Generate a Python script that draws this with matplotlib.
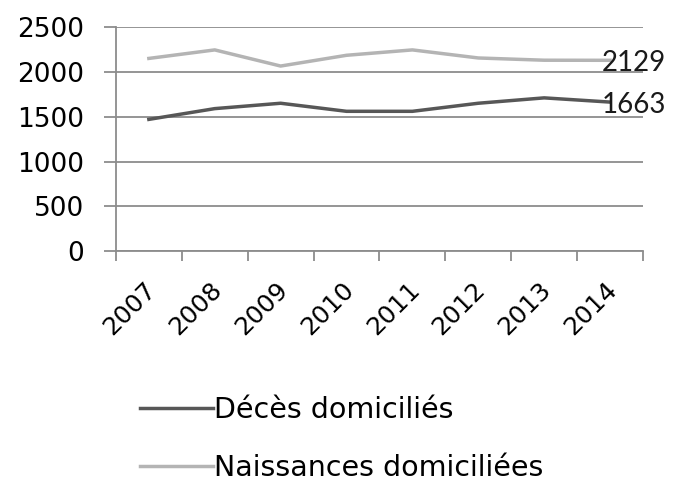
import numpy as np
import matplotlib.pyplot as plt

# Data
years = ['2007', '2008', '2009', '2010', '2011', '2012', '2013', '2014']
deces = [1470, 1590, 1650, 1560, 1560, 1650, 1710, 1663]
naissances = [2150, 2245, 2065, 2185, 2245, 2155, 2130, 2129]
yticks = [0, 500, 1000, 1500, 2000, 2500]

plt.rcParams['font.family'] = ['DejaVu Sans']

fig = plt.figure(figsize=(6.74, 4.83), dpi=100)
ax = fig.add_axes([0.172, 0.480, 0.782, 0.464])

x = np.arange(len(years))
ax.plot(x, deces, color='#575757', lw=2.5, label='Décès domiciliés')
ax.plot(x, naissances, color='#b4b4b4', lw=2.5, label='Naissances domiciliées')

# value labels on the last point
ax.annotate(str(naissances[-1]), (x[-1], naissances[-1]), xytext=(-6, -2),
            textcoords='offset points', va='center', ha='left',
            fontsize=20, family='Lato', color='#1a1a1a')
ax.annotate(str(deces[-1]), (x[-1], deces[-1]), xytext=(-6, -2),
            textcoords='offset points', va='center', ha='left',
            fontsize=20, family='Lato', color='#1a1a1a')

ax.set_xlim(-0.5, len(years) - 0.5)
ax.set_ylim(0, 2500)
ax.set_yticks(yticks)
ax.set_yticklabels([str(v) for v in yticks], fontsize=19)
ax.yaxis.grid(True, color='#8c8c8c', lw=1.3)
ax.set_axisbelow(True)

ax.set_xticks(x + 0.05)
ax.set_xticklabels(years, rotation=45, ha='right', va='center',
                   rotation_mode='anchor', fontsize=18)
ax.set_xticks(np.arange(len(years) + 1) - 0.5, minor=True)
ax.tick_params(axis='x', which='major', length=0, pad=25)
ax.tick_params(axis='x', which='minor', length=7.5, width=1.3, color='#8c8c8c')
ax.tick_params(axis='y', length=9, width=1.3, color='#8c8c8c', pad=14)

for s in ['top', 'right']:
    ax.spines[s].set_visible(False)
for s in ['left', 'bottom']:
    ax.spines[s].set_color('#8c8c8c')
    ax.spines[s].set_linewidth(1.3)

fig.legend(loc='center left', bbox_to_anchor=(0.17, 0.092), frameon=False,
           fontsize=20.5, handlelength=2.55, handletextpad=0.05, labelspacing=1.05)

plt.savefig('out.png', dpi=100)
